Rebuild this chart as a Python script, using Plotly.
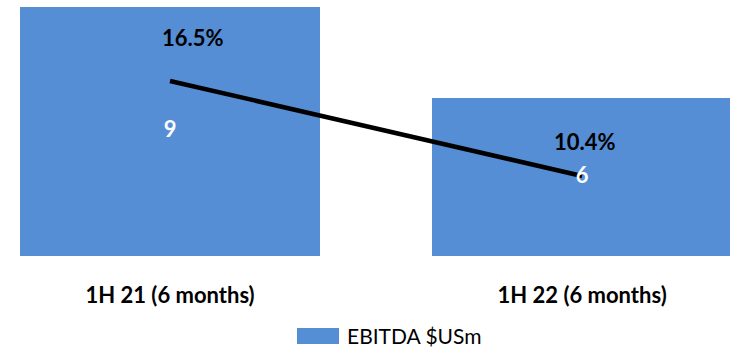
import plotly.graph_objects as go

categories = ["1H 21 (6 months)", "1H 22 (6 months)"]
ebitda = [9.3, 5.9]
ebitda_labels = ["9", "6"]
margin_pct = [16.5, 10.4]
margin_labels = ["16.5%", "10.4%"]
series_name = "EBITDA $USm"

BAR = "#558ED5"
FONT = "Lato, 'Liberation Sans', Arial, sans-serif"

fig = go.Figure()
fig.add_trace(go.Bar(
    x=[0, 1], y=ebitda, name=series_name,
    marker=dict(color=BAR, line=dict(width=0)),
    width=0.728, showlegend=False, hoverinfo="skip",
))
fig.add_trace(go.Scatter(
    x=[0, 1], y=margin_pct, yaxis="y2", mode="lines",
    line=dict(color="black", width=4.5), showlegend=False, hoverinfo="skip",
))
# bar value labels drawn above the line, centered in bars
fig.add_trace(go.Scatter(
    x=[0, 1], y=[v / 2 for v in ebitda], yaxis="y3", mode="text",
    text=[f"<b>{t}</b>" for t in ebitda_labels], textposition="middle center",
    textfont=dict(color="white", size=22, family=FONT),
    showlegend=False, hoverinfo="skip",
))

shifts = [(23, 43), (3, 34)]
for i, (lbl, v) in enumerate(zip(margin_labels, margin_pct)):
    fig.add_annotation(
        x=i, y=v, yref="y2", text=f"<b>{lbl}</b>", showarrow=False,
        xshift=shifts[i][0], yshift=shifts[i][1],
        font=dict(color="black", size=22, family=FONT),
    )

# legend (custom wide swatch)
fig.add_shape(type="rect", xref="paper", yref="paper",
              x0=297 / 730, x1=339 / 730, y0=-0.353, y1=-0.289,
              fillcolor=BAR, line=dict(width=0))
fig.add_annotation(xref="paper", yref="paper", x=345 / 730, y=-0.321,
                   xanchor="left", yanchor="middle", showarrow=False,
                   text=series_name,
                   font=dict(size=21, color="black", family=FONT))

fig.update_layout(
    width=730, height=350,
    margin=dict(l=0, r=0, t=7, b=94),
    paper_bgcolor="white", plot_bgcolor="white",
    font=dict(family=FONT, color="black"),
    bargap=0,
    showlegend=False,
    xaxis=dict(
        range=[-0.4126, 1.359], tickvals=[0, 1],
        ticktext=[f"<b>{c}</b>" for c in categories],
        showgrid=False, zeroline=False, showline=False,
        ticks="", ticklabelstandoff=24,
        tickfont=dict(size=22, color="black", family=FONT),
    ),
    yaxis=dict(range=[0, 9.3], visible=False, showgrid=False, zeroline=False),
    yaxis2=dict(range=[5.26, 21.25], overlaying="y", side="right",
                visible=False, showgrid=False, zeroline=False),
    yaxis3=dict(range=[0, 9.3], overlaying="y", side="left",
                visible=False, showgrid=False, zeroline=False),
)

fig.write_html("out.html")
